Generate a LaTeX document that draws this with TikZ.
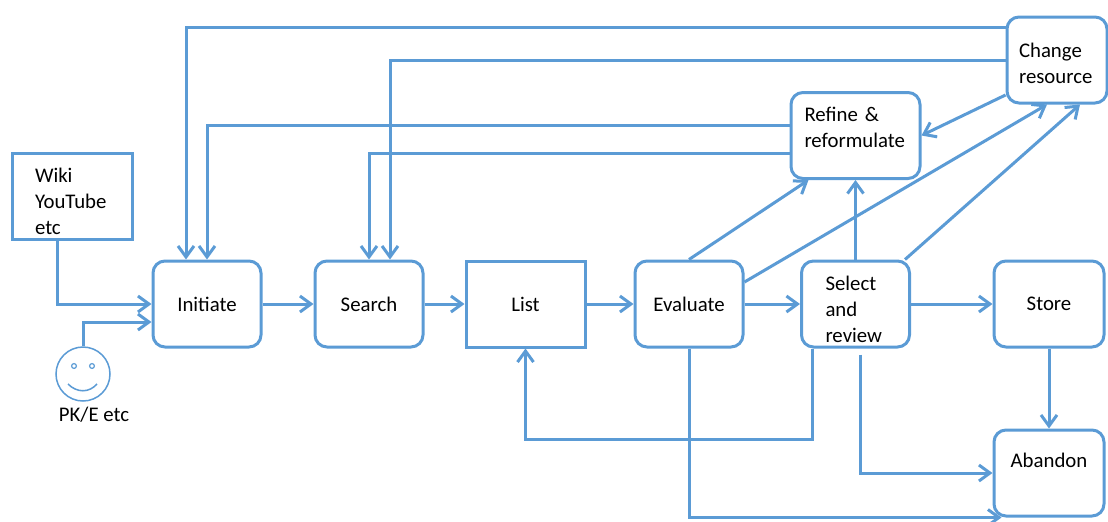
\documentclass[tikz,border=0pt]{standalone}
\usepackage{fontspec}
\setmainfont{Carlito}
\usepackage{tikz}
\usetikzlibrary{arrows.meta,positioning}
\definecolor{flowblue}{RGB}{91,155,213}

\tikzset{
  proc/.style={draw=flowblue, line width=1.5pt, fill=white, rounded corners=6pt,
    minimum width=54pt, minimum height=43pt, align=center},
  plain/.style={proc, rounded corners=0pt},
  flow/.style={draw=flowblue, line width=1.5pt, ->},
}

\begin{document}
\begin{tikzpicture}[x=0.5pt,y=-0.5pt,>={Straight Barb[length=5.5pt,width=8pt]},node distance=81pt,font=\fontsize{10.4pt}{13pt}\selectfont]
\useasboundingbox (0,0) rectangle (1108,521);
\node[proc] (init) at (207,304) {Initiate};
\node[proc] (search) [right of=init] {Search};
\node[plain, minimum width=59.5pt] (list) [right of=search, xshift=-2.75pt] {List};
\node[proc] (eval) [right of=list, xshift=0.75pt] {Evaluate};
\node[proc, text width=30pt, align=left, text depth=20.5pt] (select) [right of=eval, xshift=2.25pt] {Select\\and\\review};
\node[proc, minimum width=55pt] (store) [right of=select, xshift=15.75pt] {Store};
\node[proc, minimum width=55pt, text depth=13pt] (abandon) [below of=store, node distance=84.5pt] {Abandon};
\node[proc, minimum width=64.5pt, text width=51pt, align=left, text depth=21pt] (refine) at (855.5,135.5) {Refine \&\\reformulate};
\node[proc, minimum width=50pt, text width=38pt, align=left, text depth=10pt] (change) at (1057,60) {Change\\resource};
\node[plain, minimum width=60pt, text width=37pt, align=left, text depth=21pt] (wiki) at (72,196) {Wiki\\YouTube\\etc};
\node[circle, draw=flowblue, line width=0.75pt, fill=white, minimum size=27pt,
  label={[xshift=5.5pt, label distance=-1pt]below:PK/E etc}] (user) at (83,374) {};

% smiley face
\draw[flowblue, line width=0.6pt] ([shift={(-4.5pt,4pt)}]user.center) circle (1.2pt);
\draw[flowblue, line width=0.6pt] ([shift={(4.5pt,4pt)}]user.center) circle (1.2pt);
\draw[flowblue, line width=0.75pt] ([shift={(-7.5pt,-5pt)}]user.center) .. controls ([shift={(-3pt,-9.5pt)}]user.center) and ([shift={(3pt,-9.5pt)}]user.center) .. ([shift={(7pt,-5pt)}]user.center);

% main row
\draw[flow] ([xshift=-7.5pt]wiki.south) |- (init.west);
\draw[flow] (user.north) |- ([yshift=-9pt]init.west);
\path[flow] (init) edge (search);
\path[flow] (search) edge (list);
\path[flow] (list) edge (eval);
\path[flow] (eval) edge (select);
\path[flow] (select) edge (store);
\path[flow] (store) edge (abandon);

% loops back
\draw[flow] ([yshift=16.5pt]change.west) -| ([xshift=-10.5pt]init.north);
\draw[flow] (change.west) -| ([xshift=10.5pt]search.north);
\draw[flow] ([yshift=5.25pt]refine.west) -| (init.north);
\draw[flow] ([yshift=-8.75pt]refine.west) -| (search.north);
\draw[flow] ([yshift=-17.5pt]change.west) -- (refine.east);
\draw[flow] (eval.north) -- ([xshift=-23.5pt]refine.south);
\draw[flow] (select.north) -- (refine.south);
\draw[flow] ([yshift=11pt]eval.east) -- ([xshift=-5pt]change.south);
\draw[flow] ([xshift=-3pt]select.north east) -- ([xshift=11.5pt]change.south);
\draw[flow] ([xshift=-21.5pt]select.south) -- ++(0,-45.5pt) -| (list.south);
\draw[flow, shorten <=3pt] ([xshift=2.5pt]select.south) |- (abandon.west);
\draw[flow] (eval.south) |- ([xshift=4.5pt]abandon.south west);
\end{tikzpicture}
\end{document}
